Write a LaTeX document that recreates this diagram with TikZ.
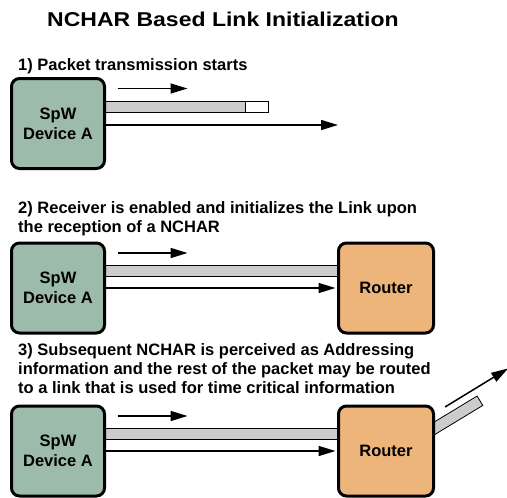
\documentclass[tikz,border=0pt]{standalone}
\usepackage{fontspec}
\setmainfont{Liberation Sans}
\newfontfamily\titlefont[FakeStretch=1.15]{Liberation Sans}
\usepackage{xcolor}
\usetikzlibrary{arrows.meta, positioning, backgrounds}

\definecolor{devgreen}{RGB}{157,187,170}
\definecolor{routeorange}{RGB}{237,181,122}
\definecolor{pipegray}{RGB}{204,204,204}

\tikzset{
  unit/.style={draw, line width=3pt, rounded corners=8pt, minimum width=93pt, minimum height=90pt,
    align=center, font=\bfseries\fontsize{16.5}{20}\selectfont},
  device/.style={unit, fill=devgreen},
  router/.style={unit, fill=routeorange, minimum width=95pt},
  pipe/.style={draw, line width=0.8pt, fill=pipegray},
  flow/.style={-{Triangle[length=17pt,width=10pt]}, line width=1.5pt},
  stepnote/.style={anchor=base west, inner sep=0pt, align=left, font=\bfseries\fontsize{16.5}{19}\selectfont},
}

\begin{document}
\begin{tikzpicture}[x=1pt, y=-1pt]
    \useasboundingbox (0,0) rectangle (507,498);

    \node[anchor=base west, inner sep=0pt, font=\titlefont\bfseries\fontsize{20}{24}\selectfont] (title) at (47,26) {NCHAR Based Link Initialization};

    \node[stepnote] (note1) at (18,70) {1) Packet transmission starts};
    \node[device] (devA1) at (58,123.5) {SpW\\Device A};
    \coordinate (cut1) at (245,101);
    \coordinate (tail1) at (268,112.5);
    \coordinate (reach1) at (338,125);
    \begin{scope}[on background layer]
        \draw[pipe] ([yshift=11pt]devA1.center) rectangle (cut1);
    \end{scope}
    \draw[pipe, fill=white] (cut1) rectangle (tail1);
    \coordinate (push1) at ([xshift=11.5pt,yshift=35pt]devA1.east);
    \draw[flow] (push1) -- ++(70,0);
    \draw[flow] ([yshift=-1.5pt]devA1.east) -- (reach1);

    \node[stepnote] (note2) at (18,232) {2) Receiver is enabled and initializes the Link upon\\the reception of a NCHAR};
    \node[device] (devA2) at (58,288) {SpW\\Device A};
    \node[router] (rt2) at (386,288) {Router};
    \begin{scope}[on background layer]
        \draw[pipe] ([yshift=12pt]devA2.center) rectangle ([yshift=23pt]rt2.center);
    \end{scope}
    \coordinate (push2) at ([xshift=11.5pt,yshift=35pt]devA2.east);
    \draw[flow] (push2) -- ++(70,0);
    \draw[flow, shorten >=1.5pt] (devA2) -- (rt2);

    \node[stepnote] (note3) at (18,393.5) {3) Subsequent NCHAR is perceived as Addressing\\information and the rest of the packet may be routed\\to a link that is used for time critical information};
    \node[device] (devA3) at (58,451) {SpW\\Device A};
    \node[router] (rt3) at (386,451) {Router};
    \begin{scope}[on background layer]
        \draw[pipe] ([yshift=12pt]devA3.center) rectangle ([yshift=23pt]rt3.center);
        \node[pipe, rotate=31.2, minimum width=58pt, minimum height=11pt, inner sep=0pt, anchor=west] (spur3) at ([xshift=-5pt,yshift=20pt]rt3.east) {};
    \end{scope}
    \coordinate (push3) at ([xshift=11.5pt,yshift=35pt]devA3.east);
    \draw[flow] (push3) -- ++(70,0);
    \draw[flow, shorten >=1.5pt] (devA3) -- (rt3);
    \coordinate (fork3) at ([xshift=10pt,yshift=44pt]rt3.east);
    \draw[flow] (fork3) -- ++(-31.4:74);
\end{tikzpicture}
\end{document}
